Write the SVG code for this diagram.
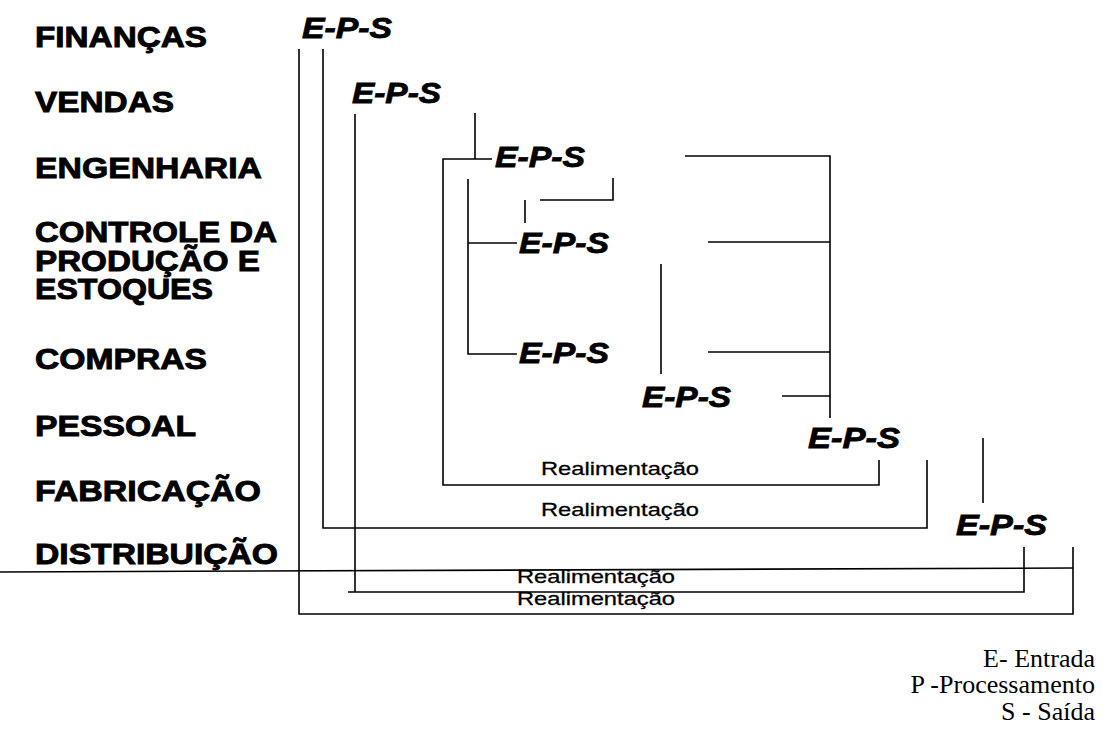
<svg xmlns="http://www.w3.org/2000/svg" width="1106" height="729" viewBox="0 0 1106 729">
<style>
.dept{font-family:"Liberation Sans",Arial,sans-serif;font-weight:bold;font-size:29px;fill:#000;stroke:#000;stroke-width:0.9px}
.eps{font-family:"Liberation Sans",Arial,sans-serif;font-weight:bold;font-style:italic;font-size:29px;fill:#000;stroke:#000;stroke-width:0.8px}
.real{font-family:"Liberation Sans",Arial,sans-serif;font-size:19px;fill:#000;stroke:#000;stroke-width:0.3px}
.leg{font-family:"Liberation Serif","Times New Roman",serif;font-size:26px;fill:#000;text-anchor:end}
.ln{stroke:#000;stroke-width:1.6;fill:none}
</style>
<rect width="1106" height="729" fill="#fff"/>
<g id="departments">
<text class="dept" x="35" y="47" textLength="172" lengthAdjust="spacingAndGlyphs">FINANÇAS</text>
<text class="dept" x="35" y="112" textLength="139" lengthAdjust="spacingAndGlyphs">VENDAS</text>
<text class="dept" x="35" y="178" textLength="227" lengthAdjust="spacingAndGlyphs">ENGENHARIA</text>
<text class="dept" x="35" y="242" textLength="242" lengthAdjust="spacingAndGlyphs">CONTROLE DA</text>
<text class="dept" x="35" y="271" textLength="225" lengthAdjust="spacingAndGlyphs">PRODUÇÃO E</text>
<text class="dept" x="35" y="299" textLength="178" lengthAdjust="spacingAndGlyphs">ESTOQUES</text>
<text class="dept" x="35" y="369" textLength="172" lengthAdjust="spacingAndGlyphs">COMPRAS</text>
<text class="dept" x="35" y="436" textLength="161" lengthAdjust="spacingAndGlyphs">PESSOAL</text>
<text class="dept" x="35" y="501" textLength="226" lengthAdjust="spacingAndGlyphs">FABRICAÇÃO</text>
<text class="dept" x="35" y="564" textLength="243" lengthAdjust="spacingAndGlyphs">DISTRIBUIÇÃO</text>
</g>
<g id="eps-financas"><text class="eps" x="302" y="38" textLength="90" lengthAdjust="spacingAndGlyphs">E-P-S</text></g>
<g id="eps-vendas"><text class="eps" x="352" y="103" textLength="89" lengthAdjust="spacingAndGlyphs">E-P-S</text></g>
<g id="eps-engenharia"><text class="eps" x="495" y="167" textLength="90" lengthAdjust="spacingAndGlyphs">E-P-S</text></g>
<g id="eps-controle"><text class="eps" x="519" y="253" textLength="90" lengthAdjust="spacingAndGlyphs">E-P-S</text></g>
<g id="eps-compras"><text class="eps" x="519" y="363" textLength="90" lengthAdjust="spacingAndGlyphs">E-P-S</text></g>
<g id="eps-pessoal"><text class="eps" x="642" y="407" textLength="89" lengthAdjust="spacingAndGlyphs">E-P-S</text></g>
<g id="eps-fabricacao"><text class="eps" x="808" y="448" textLength="92" lengthAdjust="spacingAndGlyphs">E-P-S</text></g>
<g id="eps-distribuicao"><text class="eps" x="956" y="535" textLength="91" lengthAdjust="spacingAndGlyphs">E-P-S</text></g>
<g id="connectors" class="ln">
<polyline points="299,49 299,614 1073,614 1073,547"/>
<polyline points="323,49 323,528 927,528 927,460"/>
<polyline points="355,114 355,592"/>
<polyline points="348,592 1024,592 1024,547"/>
<line x1="0" y1="572" x2="1073" y2="568"/>
<line x1="475" y1="113" x2="475" y2="159"/>
<polyline points="492,159 443,159 443,485 879,485 879,460"/>
<polyline points="685,156 830,156 830,418"/>
<line x1="708" y1="242" x2="830" y2="242"/>
<line x1="708" y1="352" x2="830" y2="352"/>
<line x1="782" y1="396" x2="830" y2="396"/>
<polyline points="613,178 613,200 540,200"/>
<line x1="525" y1="200" x2="525" y2="223"/>
<polyline points="517,243 468,243"/>
<polyline points="468,179 468,354 517,354"/>
<line x1="661" y1="264" x2="661" y2="374"/>
<line x1="983" y1="438" x2="983" y2="503"/>
</g>
<g id="feedback-labels">
<text class="real" x="541" y="475" textLength="158" lengthAdjust="spacingAndGlyphs">Realimentação</text>
<text class="real" x="541" y="516" textLength="158" lengthAdjust="spacingAndGlyphs">Realimentação</text>
<text class="real" x="517" y="583" textLength="158" lengthAdjust="spacingAndGlyphs">Realimentação</text>
<text class="real" x="517" y="605" textLength="158" lengthAdjust="spacingAndGlyphs">Realimentação</text>
</g>
<g id="legend">
<text class="leg" x="1095" y="667">E- Entrada</text>
<text class="leg" x="1095" y="693">P -Processamento</text>
<text class="leg" x="1095" y="720">S - Saída</text>
</g>
</svg>
